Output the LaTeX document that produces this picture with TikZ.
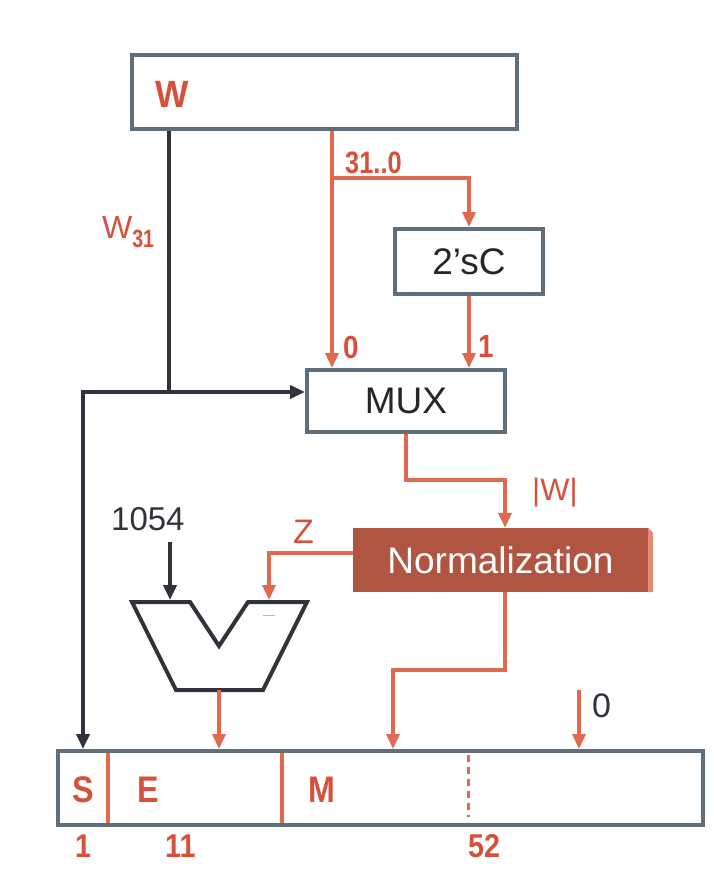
\documentclass[tikz,border=0pt]{standalone}
\usepackage{fontspec}
\setmainfont{Liberation Sans}
\usetikzlibrary{arrows.meta}
\definecolor{boxgray}{HTML}{5F6E7B}
\definecolor{darkln}{HTML}{32323C}
\definecolor{redln}{HTML}{E0694F}
\definecolor{redtxt}{HTML}{D5513B}
\definecolor{normfill}{HTML}{B05542}
\definecolor{normedge}{HTML}{E38B76}
\newcommand{\narrow}[1]{\scalebox{0.87}[1]{#1}}
\tikzset{
  box/.style={draw=boxgray,line width=4pt,inner sep=0pt,fill=white,text=black!85},
  wire/.style={draw=redln,line width=3.5pt},
  bus/.style={draw=darkln,line width=4pt},
  arr/.style={-{Triangle[length=15pt,width=13pt]}},
  big/.style={font=\fontsize{37}{40}\selectfont},
  redbold/.style={text=redtxt,font=\fontsize{#1}{#1}\selectfont\bfseries,inner sep=0pt,anchor=base west},
  plain/.style={font=\fontsize{#1}{#1}\selectfont,inner sep=0pt,anchor=base west},
}
\begin{document}
\begin{tikzpicture}[x=1pt,y=-1pt]
\useasboundingbox (0,0) rectangle (714,888);

% blocks
\node[box,minimum width=385pt,minimum height=74pt] (wreg) at (324.5,92) {};
\node[box,big,minimum width=148pt,minimum height=65pt] (twosc) at (469,261.5) {2'sC};
\node[box,big,minimum width=198pt,minimum height=62pt] (mux) at (406,401) {MUX};
\node[fill=normfill,text=white,big,inner sep=0pt,minimum width=295pt,minimum height=64pt] (norm) at (500.5,560) {Normalization};
\fill[normedge] (norm.north east) -- ++(5,5) -- ++(0,59) -- (norm.south east) -- cycle;
\node[box,minimum width=645pt,minimum height=74pt] (reg) at (380.5,788) {};

% subtractor
\coordinate (s1) at (132,602);
\coordinate (s2) at (190,602);
\coordinate (s3) at (219,646);
\coordinate (s4) at (248,602);
\coordinate (s5) at (307,602);
\coordinate (s6) at (263,690);
\coordinate (s7) at (176,690);
\draw[bus,line join=miter] (s1) -- (s2) -- (s3) -- (s4) -- (s5) -- (s6) -- (s7) -- cycle;
\draw[redln!60,line width=1pt] (263,615) -- (275,615);

% fields of the result
\draw[wire] (108,753) -- (108,823);
\draw[wire] (282,753) -- (282,823);
\draw[redln,line width=3pt,dash pattern=on 7pt off 5pt] (468,755) -- (468,817);

% labels
\node[redbold=38] (wlbl) at (155,107) {\scalebox{0.93}[1]{W}};
\node[redbold=31] (bits) at (345,173) {\scalebox{0.82}[1]{31..0}};
\node[plain=32,text=redtxt] (w31) at (102,238) {W\raisebox{-9pt}{\fontsize{25}{25}\selectfont\bfseries\scalebox{0.78}[1]{31}}};
\node[redbold=32] (in0) at (343,358) {\narrow{0}};
\node[redbold=32] (in1) at (478,357) {\narrow{1}};
\node[plain=31,text=redtxt] (absl) at (532,500) {|W|};
\node[plain=34,text=redtxt] (zlbl) at (293,543) {Z};
\node[plain=33,text=darkln] (k1054) at (111,530) {1054};
\node[plain=34,text=darkln] (zero) at (592,717) {0};
\foreach \t/\x in {S/72,E/137,M/308}
{
    \node[redbold=37] (f\t) at (\x,802) {\narrow{\t}};
}
\foreach \t/\x in {1/75,11/165,52/468}
{
    \node[redbold=33] (n\t) at (\x,857) {\narrow{\t}};
}

% sign path
\coordinate (jn) at (169,392);
\coordinate (sbend) at (83,392);
\draw[bus] (jn |- wreg.south) -- (jn);
\draw[bus,arr] (jn) -- (jn -| mux.west);
\draw[bus,arr] (jn) -- (sbend) -- (sbend |- reg.north);

% magnitude path
\coordinate (split) at (332,178);
\coordinate (abs) at (505,480);
\coordinate (zb) at (269,553);
\coordinate (mb) at (393,670);
\draw[wire,arr] (split |- wreg.south) -- (split |- mux.north);
\draw[wire,arr] (split) -- (split -| twosc.north) -- (twosc.north);
\draw[wire,arr] (twosc.south) -- (twosc.south |- mux.north);
\draw[wire,arr] (mux.south) -- (mux.south |- abs) -- (abs) -- (abs |- norm.north);
\draw[wire,arr] (abs |- norm.south) -- (abs |- mb) -- (mb) -- (mb |- reg.north);

% exponent path
\coordinate (kin) at (170,542);
\coordinate (subA) at (170,600);
\coordinate (subB) at (269,600);
\coordinate (subO) at (219,690);
\coordinate (zin) at (579,690);
\draw[bus,arr] (kin) -- (subA);
\draw[wire,arr] (zb -| norm.west) -- (zb) -- (subB);
\draw[wire,arr] (subO) -- (subO |- reg.north);
\draw[wire,arr] (zin) -- (zin |- reg.north);
\end{tikzpicture}
\end{document}
